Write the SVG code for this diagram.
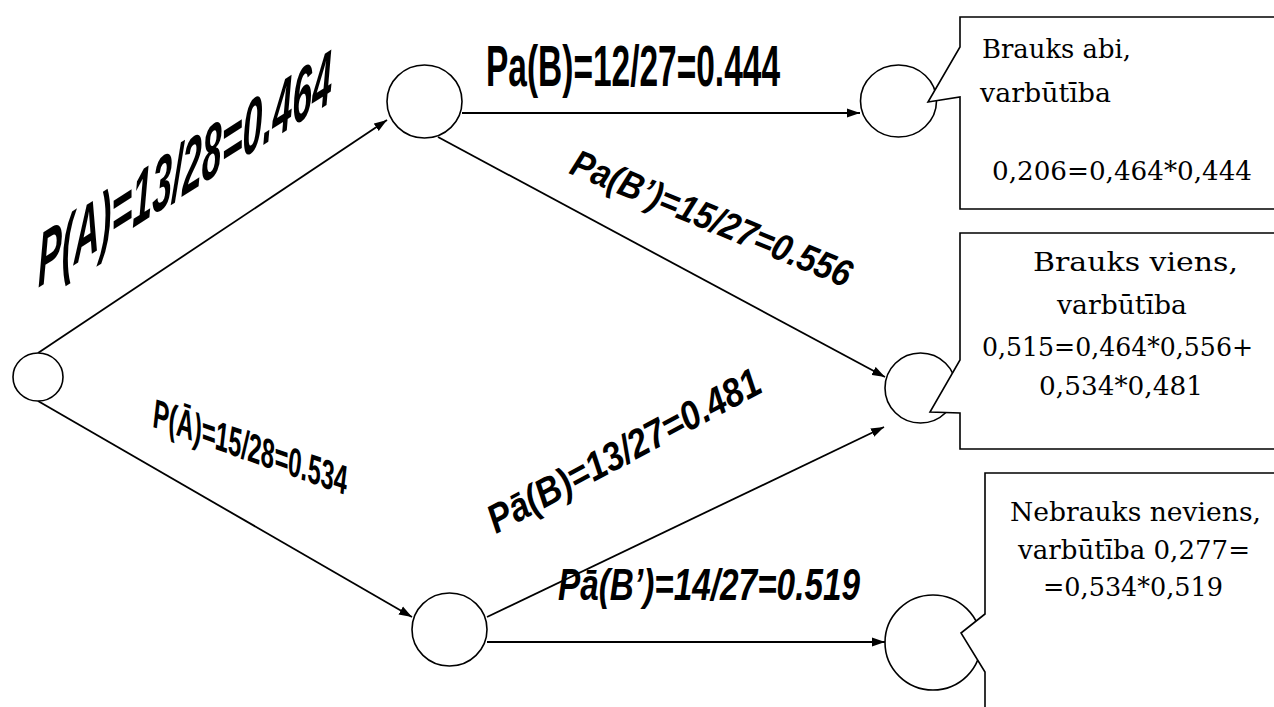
<svg xmlns="http://www.w3.org/2000/svg" width="1274" height="707" viewBox="0 0 1274 707">
<style>
.node{fill:#fff;stroke:#000;stroke-width:1.6}
.edge{fill:none;stroke:#000;stroke-width:1.8}
.call{fill:#fff;stroke:#000;stroke-width:1.6}
.lbl{font-family:"Liberation Sans",Arial,sans-serif;font-weight:bold;fill:#000}
.it{font-style:italic}
.ct{font-family:"DejaVu Serif","Liberation Serif",serif;font-size:26px;fill:#000}
</style>
<defs>
<marker id="arr" markerUnits="userSpaceOnUse" markerWidth="14" markerHeight="10" refX="13" refY="5" orient="auto">
<path d="M0,0.5 L13,5 L0,9.5 z" fill="#000"/>
</marker>
</defs>
<rect width="1274" height="707" fill="#fff"/>
<g id="connectors">
<line class="edge" x1="38" y1="353" x2="387" y2="120" marker-end="url(#arr)"/>
<line class="edge" x1="462" y1="113" x2="860" y2="113" marker-end="url(#arr)"/>
<line class="edge" x1="438" y1="137" x2="885" y2="377" marker-end="url(#arr)"/>
<line class="edge" x1="38" y1="401" x2="412" y2="617" marker-end="url(#arr)"/>
<line class="edge" x1="487" y1="617" x2="884" y2="427" marker-end="url(#arr)"/>
<line class="edge" x1="487" y1="642" x2="885" y2="642" marker-end="url(#arr)"/>
</g>
<g id="n-root"><ellipse class="node" cx="38" cy="377" rx="25" ry="24"/></g>
<g id="n-a"><ellipse class="node" cx="424.5" cy="101.5" rx="37.5" ry="36.5"/></g>
<g id="n-c"><ellipse class="node" cx="449.5" cy="629.5" rx="37.5" ry="36.5"/></g>
<g id="n-b1"><ellipse class="node" cx="898.5" cy="101" rx="38" ry="36"/></g>
<g id="n-b2"><ellipse class="node" cx="920.5" cy="388" rx="35.5" ry="35"/></g>
<g id="n-b3"><ellipse class="node" cx="933" cy="642.5" rx="48" ry="47.5"/></g>
<g id="callout1">
<path class="call" d="M1280,17 H960 V47 L928,102 L960,97 V209 H1280"/>
<text class="ct" x="982" y="58" textLength="149" lengthAdjust="spacingAndGlyphs">Brauks abi,</text>
<text class="ct" x="980" y="102" textLength="131" lengthAdjust="spacingAndGlyphs">varbūtība</text>
<text class="ct" x="992" y="180" textLength="260" lengthAdjust="spacingAndGlyphs">0,206=0,464*0,444</text>
</g>
<g id="callout2">
<path class="call" d="M1280,233 H960 V360 L930,412 L960,413 V449 H1280"/>
<text class="ct" x="1033" y="271" textLength="205" lengthAdjust="spacingAndGlyphs">Brauks viens,</text>
<text class="ct" x="1057" y="314" textLength="130" lengthAdjust="spacingAndGlyphs">varbūtība</text>
<text class="ct" x="982" y="356" textLength="271" lengthAdjust="spacingAndGlyphs">0,515=0,464*0,556+</text>
<text class="ct" x="1039" y="395" textLength="164" lengthAdjust="spacingAndGlyphs">0,534*0,481</text>
</g>
<g id="callout3">
<path class="call" d="M1280,473 H985 V614 L961,633 L985,672 V720 H1280"/>
<text class="ct" x="1010" y="521" textLength="251" lengthAdjust="spacingAndGlyphs">Nebrauks neviens,</text>
<text class="ct" x="1018" y="559" textLength="232" lengthAdjust="spacingAndGlyphs">varbūtība 0,277=</text>
<text class="ct" x="1043" y="596" textLength="180" lengthAdjust="spacingAndGlyphs">=0,534*0,519</text>
</g>
<g id="labels">
<text class="lbl it" transform="translate(38,288) skewY(-32.4)" x="0" y="0" font-size="76" textLength="294" lengthAdjust="spacingAndGlyphs">P(A)=13/28=0.464</text>
<text class="lbl it" transform="translate(153,427) skewY(19.5)" x="0" y="0" font-size="42" textLength="194" lengthAdjust="spacingAndGlyphs">P(Ā)=15/28=0.534</text>
<text class="lbl" x="486" y="86" font-size="57" textLength="294" lengthAdjust="spacingAndGlyphs">Pa(B)=12/27=0.444</text>
<text class="lbl it" transform="translate(568,173) rotate(22.5)" x="0" y="0" font-size="38" textLength="300" lengthAdjust="spacingAndGlyphs">Pa(B’)=15/27=0.556</text>
<text class="lbl it" transform="translate(496,534) rotate(-28)" x="0" y="0" font-size="40" textLength="304" lengthAdjust="spacingAndGlyphs">Pā(B)=13/27=0.481</text>
<text class="lbl it" x="558" y="600" font-size="45" textLength="302" lengthAdjust="spacingAndGlyphs">Pā(B’)=14/27=0.519</text>
</g>
</svg>
